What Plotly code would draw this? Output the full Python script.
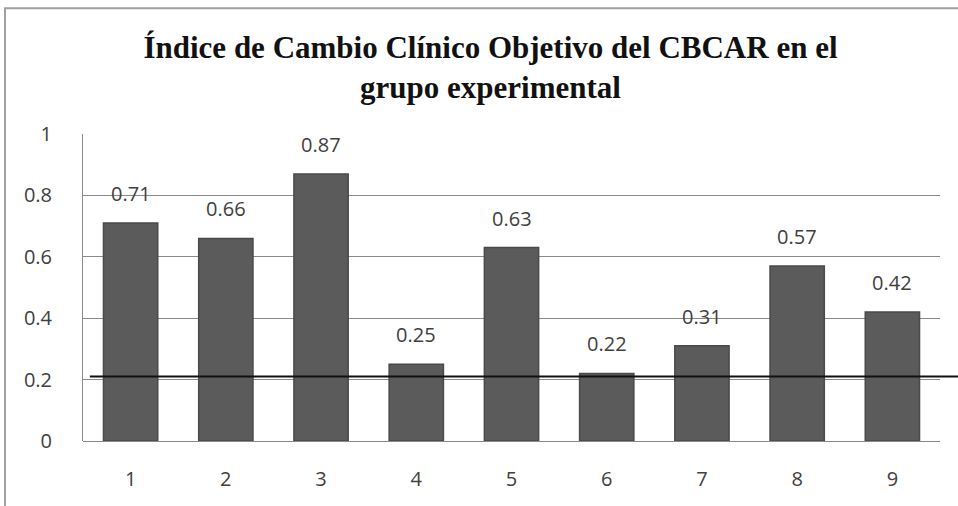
import plotly.graph_objects as go

# Índice de cambio clínico objetivo por participante
participantes = ["1", "2", "3", "4", "5", "6", "7", "8", "9"]
indice = [0.71, 0.66, 0.87, 0.25, 0.63, 0.22, 0.31, 0.57, 0.42]
etiquetas = [f"{v:.2f}" for v in indice]
umbral = 0.21
y_ticks = [0, 0.2, 0.4, 0.6, 0.8, 1]
y_tick_text = ["0", "0.2", "0.4", "0.6", "0.8", "1"]

label_font = dict(family="Open Sans, Calibri, sans-serif", size=20, color="#404040")

fig = go.Figure(
    go.Bar(
        x=participantes,
        y=indice,
        marker=dict(color="#5b5b5b", line=dict(color="#4a4a4a", width=1.5)),
        hoverinfo="x+y",
    )
)

# Value labels above each bar (category axis addressed by position index)
for idx, (val, txt) in enumerate(zip(indice, etiquetas)):
    fig.add_annotation(
        x=idx, y=val, text=txt, showarrow=False,
        yanchor="bottom", yshift=14, font=label_font,
    )

fig.update_layout(
    width=958,
    height=506,
    margin=dict(l=83, r=18, t=134, b=65),
    paper_bgcolor="white",
    plot_bgcolor="white",
    bargap=0.43,
    showlegend=False,
    title=dict(
        text="Índice de Cambio Clínico Objetivo del CBCAR en el<br>grupo experimental",
        x=0.512,
        xanchor="center",
        y=0.885,
        yanchor="top",
        font=dict(family="Liberation Serif, Times New Roman, serif", size=31, color="#111111", weight="bold"),
    ),
    xaxis=dict(
        type="category",
        showgrid=False,
        showline=False,
        ticks="",
        tickfont=label_font,
        ticklabelstandoff=24,
    ),
    yaxis=dict(
        range=[0, 1],
        tickvals=y_ticks,
        ticktext=y_tick_text,
        showgrid=True,
        gridcolor="#8a8a8a",
        gridwidth=1,
        zeroline=True,
        zerolinecolor="#8a8a8a",
        zerolinewidth=1,
        showline=True,
        linecolor="#8a8a8a",
        linewidth=1,
        ticks="",
        tickfont=label_font,
        ticklabelstandoff=26,
    ),
)

# Reference threshold line
fig.add_shape(
    type="line", xref="paper", yref="y",
    x0=0.008, x1=1.03, y0=umbral, y1=umbral,
    line=dict(color="#111111", width=2),
)

# Outer chart frame (only its left and top edges fall inside the canvas)
fig.add_shape(
    type="rect", xref="paper", yref="paper",
    x0=-0.091, x1=1.1, y0=-0.3, y1=1.41,
    line=dict(color="#a0a0a0", width=2),
    fillcolor="rgba(0,0,0,0)",
    layer="below",
)

fig.write_html("out.html")
